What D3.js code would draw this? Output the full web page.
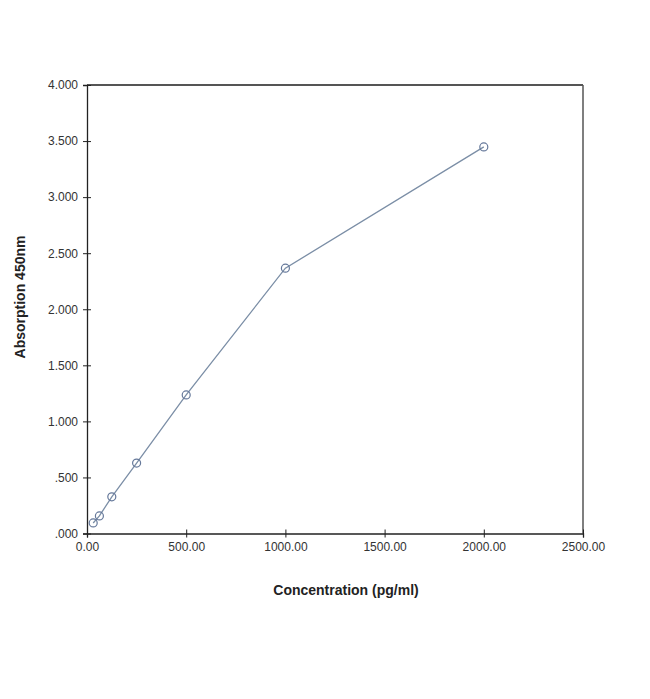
<!DOCTYPE html>
<html>
<head>
<meta charset="utf-8">
<script src="https://cdn.jsdelivr.net/npm/d3@7"></script>
<style>
  body, html { margin: 0; padding: 0; background: #fff; }
  svg { display: block; font-family: "Liberation Sans", Arial, sans-serif; }
</style>
</head>
<body>
<div id="chart"></div>
<script>
// standard curve values
var concentration = [31.25, 62.5, 125, 250, 500, 1000, 2000];
var absorption = [0.094, 0.157, 0.327, 0.628, 1.236, 2.366, 3.448];
var xTicks = [0, 500, 1000, 1500, 2000, 2500];
var yTicks = [0, 0.5, 1, 1.5, 2, 2.5, 3, 3.5, 4];

var W = 650, H = 699;
var plotL = 87, plotR = 583, plotT = 85, plotB = 533.5;

var svg = d3.select("#chart").append("svg").attr("width", W).attr("height", H);

var x = d3.scaleLinear().domain([0, 2500]).range([plotL, plotR]);
var y = d3.scaleLinear().domain([0, 4]).range([plotB, plotT]);

// frame: top and right
svg.append("line").attr("x1", plotL).attr("x2", plotR).attr("y1", plotT).attr("y2", plotT)
  .attr("stroke", "#555").attr("stroke-width", 2);
svg.append("line").attr("x1", plotR).attr("x2", plotR).attr("y1", plotT).attr("y2", plotB)
  .attr("stroke", "#555").attr("stroke-width", 1.5);

function yFmt(d) {
  var s = d3.format(".3f")(d);
  return s.charAt(0) === "0" ? s.slice(1) : s;
}

var yAxis = svg.append("g").attr("transform", "translate(" + plotL + ",0)")
  .call(d3.axisLeft(y).tickValues(yTicks).tickSize(4).tickFormat(yFmt));
var xAxis = svg.append("g").attr("transform", "translate(0," + plotB + ")")
  .call(d3.axisBottom(x).tickValues(xTicks).tickSize(4).tickFormat(d3.format(".2f")));

[yAxis, xAxis].forEach(function(a) {
  a.select(".domain").attr("stroke", "#222").attr("stroke-width", 1.3);
  a.selectAll(".tick line").attr("stroke", "#222");
  a.selectAll(".tick text").attr("fill", "#333").style("font-size", "12px");
});
// ticks cross the axis line
yAxis.selectAll(".tick line").attr("x1", 4).attr("x2", -4);
yAxis.selectAll(".tick text").attr("x", -9);
xAxis.selectAll(".tick line").attr("y1", -4).attr("y2", 4);
xAxis.selectAll(".tick text").attr("y", 9);

var pts = concentration.map(function(c, i) { return [c, absorption[i]]; });

svg.append("path").datum(pts)
  .attr("fill", "none").attr("stroke", "#7b8ea6").attr("stroke-width", 1.3)
  .attr("d", d3.line().x(function(d) { return x(d[0]); }).y(function(d) { return y(d[1]); }));

svg.selectAll("circle.pt").data(pts).enter().append("circle")
  .attr("class", "pt")
  .attr("cx", function(d) { return x(d[0]); })
  .attr("cy", function(d) { return y(d[1]); })
  .attr("r", 4)
  .attr("fill", "none").attr("stroke", "#65789a").attr("stroke-width", 1.2);

svg.append("text").attr("x", 346).attr("y", 595).attr("text-anchor", "middle")
  .style("font-size", "14px").style("font-weight", "bold").attr("fill", "#222")
  .text("Concentration (pg/ml)");

svg.append("text").attr("transform", "translate(25,297) rotate(-90)").attr("text-anchor", "middle")
  .style("font-size", "14px").style("font-weight", "bold").attr("fill", "#222")
  .text("Absorption 450nm");
</script>
</body>
</html>
